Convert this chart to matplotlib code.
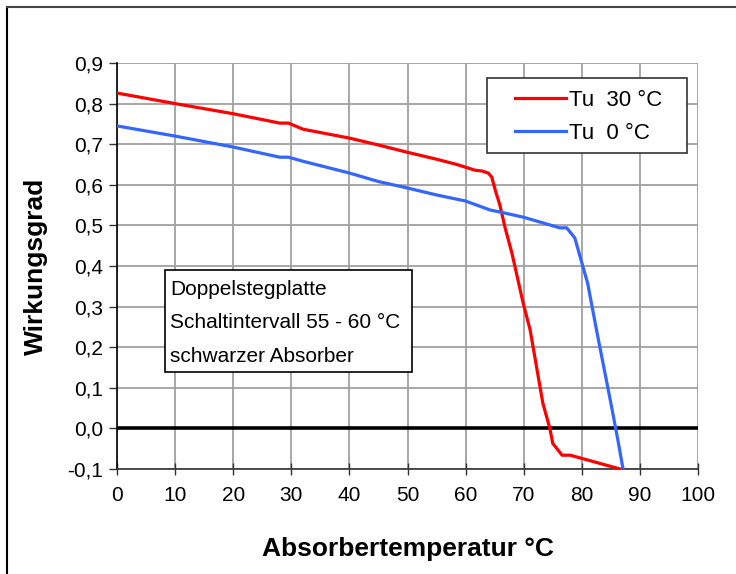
import matplotlib
matplotlib.use("Agg")
import matplotlib.pyplot as plt
from matplotlib.patches import Rectangle
from matplotlib.lines import Line2D

plt.rcParams['font.family'] = ['Liberation Sans', 'DejaVu Sans']

# Data
x_30 = [0, 10, 20, 28, 29.5, 32, 40, 45, 50, 55, 58.5, 61.6, 62.8, 63.9, 64.5,
        65.1, 65.9, 66.8, 68, 69.9, 71.1, 73.3, 74.5, 75.0, 76.6, 78, 86.6]
y_30 = [0.826, 0.80, 0.775, 0.752, 0.752, 0.737, 0.715, 0.698, 0.68, 0.663, 0.65, 0.636,
        0.634, 0.629, 0.619, 0.587, 0.55, 0.494, 0.43, 0.309, 0.243, 0.062, 0.0,
        -0.037, -0.066, -0.066, -0.1]

x_0 = [0, 10, 20, 28, 29.5, 32, 40, 45, 50, 55, 60, 64.2, 65.9, 70, 76.2, 77.4,
       78.8, 80.2, 81, 82.7, 84.9, 86.2, 87.1]
y_0 = [0.745, 0.72, 0.693, 0.668, 0.668, 0.658, 0.629, 0.608, 0.592, 0.575, 0.56,
       0.538, 0.533, 0.52, 0.494, 0.494, 0.469, 0.398, 0.358, 0.23, 0.07, -0.028, -0.1]

series_labels = ['Tu  30 °C', 'Tu  0 °C']
x_ticks = list(range(0, 101, 10))
y_ticks = [-0.1, 0.0, 0.1, 0.2, 0.3, 0.4, 0.5, 0.6, 0.7, 0.8, 0.9]
y_tick_labels = [f"{v:.1f}".replace('.', ',') for v in y_ticks]
note_lines = ['Doppelstegplatte', 'Schaltintervall 55 - 60 °C', 'schwarzer Absorber']

W, H = 736, 574
AX_L, AX_R, AX_T, AX_B = 117, 698, 63, 469
fig = plt.figure(figsize=(W / 100, H / 100), dpi=100)
ax = fig.add_axes([AX_L / W, 1 - AX_B / H, (AX_R - AX_L) / W, (AX_B - AX_T) / H])


def px2ax(px, py):
    return (px - AX_L) / (AX_R - AX_L), 1 - (py - AX_T) / (AX_B - AX_T)


grid_c = '#a0a0a0'
ax.set_xlim(0, 100)
ax.set_ylim(-0.1, 0.9)
ax.set_xticks(x_ticks)
ax.set_xticklabels([str(v) for v in x_ticks], fontsize=15)
ax.set_yticks(y_ticks)
ax.set_yticklabels(y_tick_labels, fontsize=15)
ax.grid(True, color=grid_c, linewidth=1.3)
ax.set_axisbelow(True)
for s in ['top', 'right']:
    ax.spines[s].set_visible(False)
ax.spines['left'].set_color('black')
ax.spines['left'].set_linewidth(1.2)
ax.spines['bottom'].set_color('#333333')
ax.spines['bottom'].set_linewidth(1.2)
ax.tick_params(axis='x', direction='inout', length=9, width=1, pad=8, colors='#333333', labelcolor='black')
ax.tick_params(axis='y', direction='out', length=6, width=1, pad=4, colors='#333333', labelcolor='black')

ax.axhline(0, color='black', linewidth=2.6, zorder=2)

l1, = ax.plot(x_30, y_30, color='#ff0000', linewidth=2.3, label=series_labels[0], zorder=3)
l2, = ax.plot(x_0, y_0, color='#3366ff', linewidth=2.3, label=series_labels[1], zorder=3)

# legend frame
lx0, ly0 = px2ax(487, 153)
lx1, ly1 = px2ax(687, 78)
ax.add_patch(Rectangle((lx0, ly0), lx1 - lx0, ly1 - ly0, transform=ax.transAxes,
                       facecolor='white', edgecolor='#333333', linewidth=1.2, zorder=6))
leg = ax.legend(handles=[l1, l2], loc='upper left',
                bbox_to_anchor=px2ax(515, 90),
                fontsize=16, frameon=False, borderpad=0, handlelength=2.3,
                handletextpad=0.15, labelspacing=0.55, borderaxespad=0)
leg.set_zorder(7)

# note box
nx0, ny0 = px2ax(165, 372)
nx1, ny1 = px2ax(412, 270)
ax.add_patch(Rectangle((nx0, ny0), nx1 - nx0, ny1 - ny0, transform=ax.transAxes,
                       facecolor='white', edgecolor='black', linewidth=1.2, zorder=6))
tx, ty = px2ax(170, 323)
ax.text(tx, ty, '\n'.join(note_lines), transform=ax.transAxes, fontsize=15,
        va='center', ha='left', linespacing=1.98, zorder=7)

ax.set_xlabel('Absorbertemperatur °C', fontsize=19, fontweight='bold', labelpad=23)
ax.set_ylabel('Wirkungsgrad', fontsize=19, fontweight='bold', labelpad=14)

# figure frame
fig.add_artist(Line2D([7 / W, 7 / W], [0, 1 - 7 / H], transform=fig.transFigure, color='black', linewidth=1.5))
fig.add_artist(Line2D([7 / W, 1], [1 - 7 / H, 1 - 7 / H], transform=fig.transFigure, color='#444444', linewidth=1.5))

fig.savefig('out.png', dpi=100)
